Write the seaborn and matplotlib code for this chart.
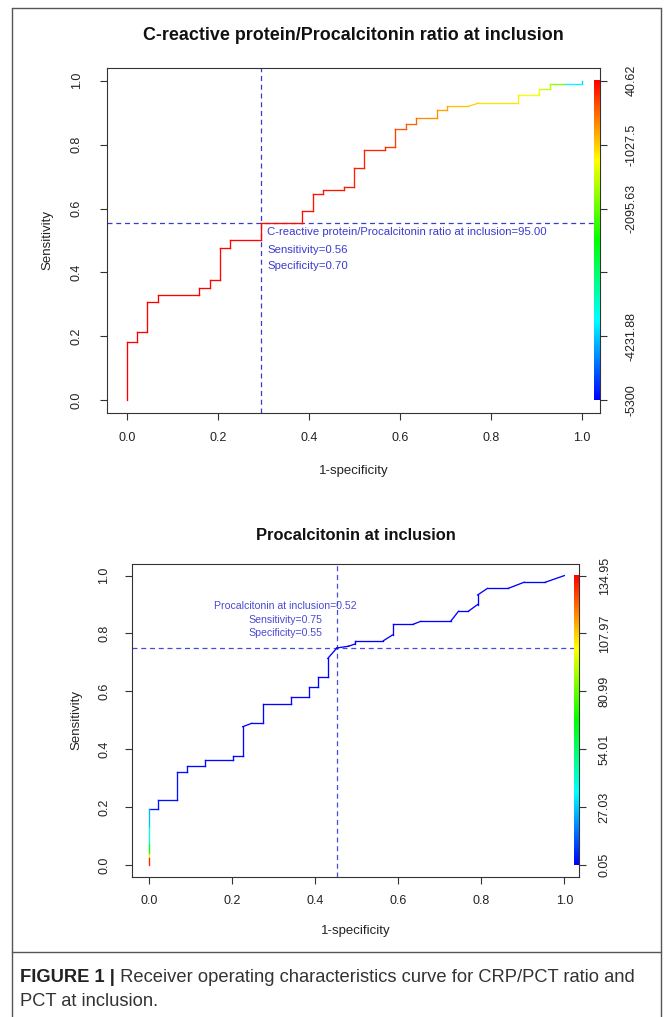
import colorsys
import numpy as np
import pandas as pd
import matplotlib
matplotlib.use('Agg')
import matplotlib.pyplot as plt
from matplotlib.colors import ListedColormap, Normalize
from matplotlib.lines import Line2D
import seaborn as sns

# ROC points (1-specificity, sensitivity) and cutoff at each point
crp_fpr = [0, 0, 0.022, 0.022, 0.045, 0.045, 0.069, 0.069, 0.158, 0.158, 0.182, 0.182,
           0.204, 0.204, 0.226, 0.226, 0.295, 0.295, 0.385, 0.385, 0.409, 0.409, 0.431, 0.431,
           0.478, 0.478, 0.500, 0.500, 0.522, 0.522, 0.567, 0.567, 0.589, 0.589, 0.614, 0.614,
           0.636, 0.636, 0.682, 0.682, 0.705, 0.705, 0.751, 0.773, 0.861, 0.861, 0.907, 0.907,
           0.930, 0.930, 0.960, 1.0, 1.0]
crp_tpr = [0, 0.181, 0.181, 0.215, 0.215, 0.306, 0.306, 0.330, 0.330, 0.351, 0.351, 0.376,
           0.376, 0.476, 0.476, 0.501, 0.501, 0.556, 0.556, 0.591, 0.591, 0.647, 0.647, 0.659,
           0.659, 0.669, 0.669, 0.727, 0.727, 0.784, 0.784, 0.794, 0.794, 0.850, 0.850, 0.864,
           0.864, 0.885, 0.885, 0.909, 0.909, 0.920, 0.920, 0.930, 0.930, 0.954, 0.954, 0.975,
           0.975, 0.990, 0.990, 0.990, 1.0]
crp_cut = [40.62, 38, 36, 34, 32, 30, 28, 26, 22, 20, 18, 16, 14, 12, 10, 8, 5, 0, -20, -30,
           -40, -50, -60, -70, -80, -90, -100, -110, -120, -130, -150, -170, -250, -280, -400,
           -420, -500, -520, -700, -720, -800, -820, -1000, -1050, -1150, -1200, -1350, -1400,
           -1600, -1700, -1900, -4000, -4200]
crp_cut_range = (-5300, 40.62)
crp_bar_labels = ['-5300', '-4231.88', '', '-2095.63', '-1027.5', '40.62']
crp_best = (0.295, 0.556)
crp_notes = ['C-reactive protein/Procalcitonin ratio at inclusion=95.00',
             'Sensitivity=0.56', 'Specificity=0.70']

pct_fpr = [0, 0, 0, 0, 0, 0, 0.022, 0.022, 0.067, 0.067, 0.090, 0.090, 0.135, 0.135, 0.202,
           0.202, 0.225, 0.225, 0.247, 0.273, 0.273, 0.341, 0.341, 0.385, 0.385, 0.407, 0.407,
           0.430, 0.430, 0.452, 0.480, 0.496, 0.496, 0.564, 0.586, 0.586, 0.636, 0.654, 0.726,
           0.745, 0.769, 0.791, 0.791, 0.815, 0.865, 0.903, 0.954, 1.0]
pct_tpr = [0, 0.025, 0.04, 0.07, 0.13, 0.194, 0.194, 0.226, 0.226, 0.320, 0.320, 0.341, 0.341,
           0.364, 0.364, 0.376, 0.376, 0.478, 0.490, 0.490, 0.557, 0.557, 0.581, 0.581, 0.614,
           0.614, 0.649, 0.649, 0.714, 0.750, 0.756, 0.764, 0.775, 0.775, 0.795, 0.832, 0.832,
           0.842, 0.842, 0.877, 0.877, 0.900, 0.933, 0.956, 0.956, 0.977, 0.977, 1.0]
pct_cut = [134.95, 130, 105, 70, 38, 25, 3.2, 2.9, 2.6, 2.3, 2.0, 1.8, 1.6, 1.45, 1.3, 1.2,
           1.1, 1.0, 0.94, 0.88, 0.82, 0.77, 0.72, 0.68, 0.64, 0.6, 0.57, 0.55, 0.53, 0.52,
           0.49, 0.46, 0.43, 0.4, 0.37, 0.34, 0.31, 0.28, 0.25, 0.22, 0.19, 0.16, 0.14, 0.12,
           0.1, 0.08, 0.06, 0.05]
pct_cut_range = (0.05, 134.95)
pct_bar_labels = ['0.05', '27.03', '54.01', '80.99', '107.97', '134.95']
pct_best = (0.452, 0.750)
pct_notes = ['Procalcitonin at inclusion=0.52', 'Sensitivity=0.75', 'Specificity=0.55']

axis_ticks = [0, 0.2, 0.4, 0.6, 0.8, 1.0]
axis_tick_labels = ['0.0', '0.2', '0.4', '0.6', '0.8', '1.0']

# ROCR colorize palette: rainbow from blue (low cutoff) to red (high cutoff)
roc_cmap = ListedColormap([colorsys.hsv_to_rgb(h, 1, 1) for h in np.linspace(4 / 6, 0, 256)])

W, H = 667, 1017


def segments(fpr, tpr, cut):
    rows = []
    for i in range(len(fpr) - 1):
        for j in (i, i + 1):
            rows.append({'seg': i, 'fpr': fpr[j], 'tpr': tpr[j], 'cut': cut[i + 1]})
    return pd.DataFrame(rows)


def draw_panel(ax, fpr, tpr, cut, cut_range, bar_labels, best, xlim, bar_x,
               dash_color, pads):
    df = segments(fpr, tpr, cut)
    sns.lineplot(data=df, x='fpr', y='tpr', hue='cut', units='seg', estimator=None,
                 palette=roc_cmap, hue_norm=Normalize(*cut_range), sort=False,
                 legend=False, lw=0.95, solid_capstyle='projecting', ax=ax)
    ax.axvline(best[0], color=dash_color, lw=0.9, ls=(0, (4, 3)), zorder=1)
    ax.axhline(best[1], color=dash_color, lw=0.9, ls=(0, (4, 3)), zorder=1)
    ax.imshow(np.linspace(0, 1, 256).reshape(-1, 1), extent=[bar_x[0], bar_x[1], 0, 1],
              origin='lower', aspect='auto', cmap=roc_cmap, zorder=4)
    ax.set_xlim(*xlim)
    ax.set_ylim(-0.04, 1.04)
    ax.set_xticks(axis_ticks, axis_tick_labels)
    ax.set_yticks(axis_ticks, axis_tick_labels)
    ax.tick_params(axis='both', direction='out', length=5, width=0.8, colors='#333333',
                   labelsize=9, labelcolor='#222222')
    ax.tick_params(axis='x', pad=pads[0], bottom=True)
    ax.tick_params(axis='y', pad=pads[1], left=True, labelrotation=90)
    for t in ax.get_yticklabels():
        t.set_va('center')
    for s in ax.spines.values():
        s.set_color('#333333')
        s.set_linewidth(0.8)
    ax.set_xlabel('1-specificity', fontsize=9.5, color='#222222', va='center')
    ax.set_ylabel('Sensitivity', fontsize=9.5, color='#222222', va='center')

    ax2 = ax.twinx()
    ax2.set_ylim(ax.get_ylim())
    ax2.set_yticks(axis_ticks, bar_labels)
    ax2.tick_params(axis='y', direction='out', length=5, width=0.8, colors='#333333',
                    labelsize=9, labelcolor='#222222', pad=pads[2], labelrotation=90,
                    right=True)
    for t in ax2.get_yticklabels():
        t.set_va('center')
    for s in ax2.spines.values():
        s.set_visible(False)
    ax2.grid(False)
    ax.grid(False)
    return ax2


sns.set_theme(style='white')
plt.rcParams['font.family'] = ['Liberation Sans', 'DejaVu Sans']

fig = plt.figure(figsize=(W / 100, H / 100), dpi=100)

# top panel: CRP/PCT ratio
ax_top = fig.add_axes([107 / W, 1 - 413 / H, 493 / W, 345 / H])
draw_panel(ax_top, crp_fpr, crp_tpr, crp_cut, crp_cut_range, crp_bar_labels, crp_best,
           (-0.0433, 1.0402), (1.028, 1.039), '#3a3ad0', (9, 12.5, 13.5))
ax_top.xaxis.set_label_coords(0.5, (413 - 471) / 345)
ax_top.yaxis.set_label_coords((47 - 107) / 493, 0.5)
for note, y in zip(crp_notes, [0.528, 0.470, 0.420]):
    ax_top.text(0.309, y, note, ha='left', va='center', fontsize=8.2, color='#3a3ad0')
fig.text(353.5 / W, 1 - 35 / H, 'C-reactive protein/Procalcitonin ratio at inclusion',
         ha='center', va='center', fontsize=12.9, fontweight='bold', color='#111111')

# bottom panel: PCT
ax_bot = fig.add_axes([132.3 / W, 1 - 876.7 / H, 447 / W, 312.7 / H])
draw_panel(ax_bot, pct_fpr, pct_tpr, pct_cut, pct_cut_range, pct_bar_labels, pct_best,
           (-0.041, 1.036), (1.024, 1.035), '#4a4ad8', (8, 11, 9))
ax_bot.xaxis.set_label_coords(0.5, (876.7 - 930.7) / 312.7)
ax_bot.yaxis.set_label_coords((76 - 132.3) / 447, 0.5)
for note, y in zip(pct_notes, [0.896, 0.848, 0.802]):
    ax_bot.text(0.327, y, note, ha='center', va='center', fontsize=7.6, color='#4a4ad8')
fig.text(355.8 / W, 1 - 535 / H, 'Procalcitonin at inclusion', ha='center', va='center',
         fontsize=11.9, fontweight='bold', color='#111111')

# outer frame and caption
frame = dict(color='#555555', lw=1.0, transform=fig.transFigure)
for xs, ys in [([12, 12], [8, H]), ([661, 661], [8, H]), ([12, 661], [8, 8]),
               ([12, 661], [952, 952])]:
    fig.add_artist(Line2D([x / W for x in xs], [1 - y / H for y in ys], **frame))

cap = fig.text(20 / W, 1 - 978 / H, 'FIGURE 1 |', ha='left', va='center', fontsize=13.2,
               fontweight='bold', color='#222222')
ax_top.annotate(' Receiver operating characteristics curve for CRP/PCT ratio and',
                xy=(1, 0), xycoords=cap, ha='left', va='bottom', fontsize=13.2,
                color='#333333', annotation_clip=False)
fig.text(20 / W, 1 - 1002 / H, 'PCT at inclusion.', ha='left', va='center', fontsize=13.2,
         color='#333333')

fig.savefig('out.png', dpi=100)
